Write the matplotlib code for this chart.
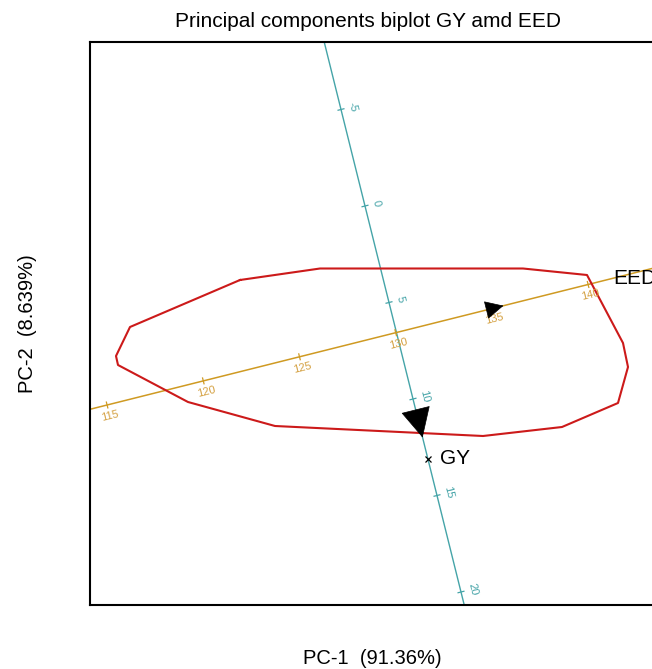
import matplotlib
matplotlib.use("Agg")
import matplotlib.pyplot as plt
import numpy as np

plt.rcParams['font.family'] = ['Liberation Sans', 'DejaVu Sans']

# biplot axis calibration (plot units)
gy_zero = np.array([365.0, 463.0])     # where GY = 0 sits
gy_step = np.array([4.8, -19.3])       # shift per GY unit
eed_130 = np.array([395.7, 336.3])     # where EED = 130 sits
eed_step = np.array([19.24, 4.82])     # shift per EED unit

gy_ticks = [-5, 0, 5, 10, 15, 20]
eed_ticks = [115, 120, 125, 130, 135, 140]

gy_arrow = 12.0      # GY vector head
eed_arrow = 135.6    # EED vector head
gy_marker = 13.1     # GY point
eed_label = 141.2    # EED label pos

# convex hull of the genotypes
hull_x = [240, 320, 523, 587, 623, 628, 618, 562, 483, 275, 188, 118, 116, 130]
hull_y = [389, 400.5, 400.5, 394, 326, 302, 266, 242, 233, 243, 267, 304, 313, 342]

teal = '#45a4a8'
gold = '#cf9a22'
gold_txt = '#d4a040'
red = '#cc1a1a'


def gy_pt(v):
    return gy_zero + v * gy_step


def eed_pt(v):
    return eed_130 + (v - 130) * eed_step


fig = plt.figure(figsize=(6.52, 6.69), dpi=100)
ax = fig.add_axes([90 / 652, 64 / 669, 570 / 652, 563 / 669])
ax.set_xlim(90, 660)
ax.set_ylim(64, 627)

# hull
hx = hull_x + [hull_x[0]]
hy = hull_y + [hull_y[0]]
ax.plot(hx, hy, color=red, lw=1.5, zorder=3)

# GY axis
a, b = gy_pt(-15), gy_pt(30)
ax.plot([a[0], b[0]], [a[1], b[1]], color=teal, lw=1.0, zorder=2)
u = gy_step / np.linalg.norm(gy_step)
perp = np.array([-u[1], u[0]])
if perp[0] < 0:
    perp = -perp
ang = np.degrees(np.arctan2(u[1], u[0]))
for t in gy_ticks:
    p = gy_pt(t)
    ax.plot([p[0] - 3 * perp[0], p[0] + 3 * perp[0]],
            [p[1] - 3 * perp[1], p[1] + 3 * perp[1]], color=teal, lw=0.9)
    ax.text(p[0] + 12 * perp[0], p[1] + 12 * perp[1], str(t), color=teal,
            fontsize=8, rotation=ang, ha='center', va='center',
            rotation_mode='anchor')

# EED axis
a, b = eed_pt(100), eed_pt(160)
ax.plot([a[0], b[0]], [a[1], b[1]], color=gold, lw=1.1, zorder=2)
u2 = eed_step / np.linalg.norm(eed_step)
perp2 = np.array([u2[1], -u2[0]])
ang2 = np.degrees(np.arctan2(u2[1], u2[0]))
for t in eed_ticks:
    p = eed_pt(t)
    ax.plot([p[0] - 3 * perp2[0], p[0] + 3 * perp2[0]],
            [p[1] - 3 * perp2[1], p[1] + 3 * perp2[1]], color=gold, lw=0.9)
    ax.text(p[0] + 11 * perp2[0], p[1] + 11 * perp2[1], str(t), color=gold_txt,
            fontsize=8, rotation=ang2, ha='center', va='center',
            rotation_mode='anchor')

# vector heads
tip = gy_pt(gy_arrow)
ax.annotate('', xy=tip, xytext=tip - 20 * u,
            arrowprops=dict(arrowstyle='-|>,head_length=1.0,head_width=0.5',
                            color='black', lw=0.5, mutation_scale=20,
                            shrinkA=0, shrinkB=0), zorder=5)
tip = eed_pt(eed_arrow)
ax.annotate('', xy=tip, xytext=tip - 12 * u2,
            arrowprops=dict(arrowstyle='-|>,head_length=1.0,head_width=0.5',
                            color='black', lw=0.5, mutation_scale=12,
                            shrinkA=0, shrinkB=0), zorder=5)

# variable labels
p = gy_pt(gy_marker)
ax.plot(p[0], p[1], marker='x', color='black', ms=5, mew=0.9, zorder=5)
ax.text(p[0] + 12, p[1], 'GY', fontsize=15, ha='left', va='center')
p = eed_pt(eed_label)
ax.text(p[0] + 2, p[1], 'EED', fontsize=15, ha='left', va='center', zorder=6)

ax.set_xticks([])
ax.set_yticks([])
for s in ax.spines.values():
    s.set_linewidth(1.5)

ax.set_title('Principal components biplot GY amd EED', fontsize=15, pad=11, x=0.488)
ax.set_xlabel('PC-1  (91.36%)', fontsize=14.5)
ax.xaxis.set_label_coords(0.495, -0.078)
ax.set_ylabel('PC-2  (8.639%)', fontsize=14.5, labelpad=38)

fig.savefig('out.png', dpi=100)
